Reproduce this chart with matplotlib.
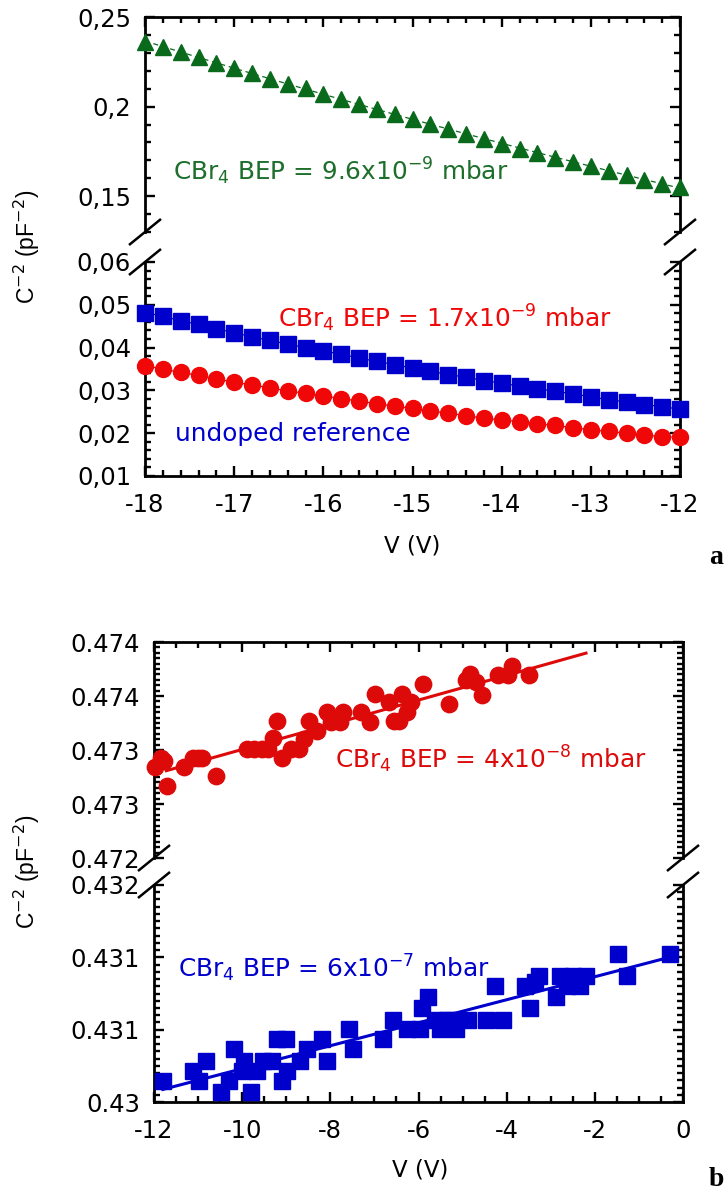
import numpy as np
import matplotlib
matplotlib.use("Agg")
import matplotlib.pyplot as plt
from matplotlib.ticker import FixedLocator, MultipleLocator
from matplotlib.lines import Line2D

plt.rcParams['font.family'] = ['DejaVu Sans']
plt.rcParams['axes.unicode_minus'] = False
plt.rcParams['mathtext.fontset'] = 'dejavusans'

# ---------------- panel a : C^-2 vs reverse bias ----------------
bias_a = [-18.0, -17.8, -17.6, -17.4, -17.2, -17.0, -16.8, -16.6, -16.4, -16.2,
          -16.0, -15.8, -15.6, -15.4, -15.2, -15.0, -14.8, -14.6, -14.4, -14.2,
          -14.0, -13.8, -13.6, -13.4, -13.2, -13.0, -12.8, -12.6, -12.4, -12.2,
          -12.0]
c2_bep_9p6e9 = [0.2361, 0.2333, 0.2306, 0.2274, 0.2244, 0.2217, 0.2185, 0.2156,
                0.2128, 0.2102, 0.2070, 0.2041, 0.2013, 0.1985, 0.1959, 0.1930,
                0.1904, 0.1874, 0.1846, 0.1819, 0.1793, 0.1765, 0.1741, 0.1713,
                0.1691, 0.1667, 0.1643, 0.1617, 0.1593, 0.1570, 0.1550]
c2_undoped = [0.0482, 0.0473, 0.0463, 0.0454, 0.0444, 0.0435, 0.0425, 0.0417,
              0.0408, 0.0400, 0.0392, 0.0385, 0.0375, 0.0368, 0.0360, 0.0352,
              0.0345, 0.0337, 0.0331, 0.0323, 0.0317, 0.0310, 0.0304, 0.0298,
              0.0292, 0.0285, 0.0278, 0.0273, 0.0267, 0.0262, 0.0256]
c2_bep_1p7e9 = [0.0358, 0.0350, 0.0342, 0.0335, 0.0327, 0.0319, 0.0313, 0.0306,
                0.0299, 0.0293, 0.0287, 0.0281, 0.0275, 0.0269, 0.0263, 0.0258,
                0.0252, 0.0247, 0.0241, 0.0235, 0.0231, 0.0227, 0.0222, 0.0218,
                0.0213, 0.0208, 0.0204, 0.0200, 0.0196, 0.0192, 0.0190]

yt_a_upper = [0.15, 0.20, 0.25]
yl_a_upper = ['0,15', '0,2', '0,25']
yt_a_lower = [0.01, 0.02, 0.03, 0.04, 0.05, 0.06]
yl_a_lower = ['0,01', '0,02', '0,03', '0,04', '0,05', '0,06']

# ---------------- panel b : C^-2 vs bias, heavily doped ----------------
bias_b_4e8 = [-11.98, -11.85, -11.78, -11.70, -11.33, -11.11, -11.00, -10.90,
              -10.59, -9.90, -9.74, -9.56, -9.41, -9.30, -9.21, -9.09, -8.90,
              -8.70, -8.60, -8.48, -8.30, -8.07, -7.99, -7.78, -7.72, -7.31,
              -7.09, -6.99, -6.68, -6.55, -6.44, -6.38, -6.26, -6.16, -5.89,
              -5.30, -4.92, -4.84, -4.70, -4.57, -4.20, -3.98, -3.88, -3.49]
c2_bep_4e8 = [0.47284, 0.47293, 0.47290, 0.47267, 0.47284, 0.47293, 0.47293,
              0.47293, 0.47276, 0.47301, 0.47301, 0.47301, 0.47301, 0.47311,
              0.47327, 0.47293, 0.47301, 0.47301, 0.47310, 0.47327, 0.47318,
              0.47335, 0.47326, 0.47326, 0.47335, 0.47335, 0.47326, 0.47352,
              0.47344, 0.47327, 0.47327, 0.47352, 0.47335, 0.47344, 0.47361,
              0.47343, 0.47365, 0.47370, 0.47363, 0.47351, 0.47369, 0.47369,
              0.47378, 0.47369]

bias_b_6e7 = [-11.80, -11.11, -10.97, -10.81, -10.48, -10.29, -10.18, -10.01,
              -9.95, -9.79, -9.67, -9.52, -9.33, -9.22, -9.10, -8.99, -9.00,
              -8.69, -8.54, -8.20, -8.08, -7.57, -7.48, -6.80, -6.57, -6.27,
              -5.97, -5.91, -5.78, -5.63, -5.52, -5.36, -5.25, -5.15, -4.87,
              -4.47, -4.26, -4.09, -3.58, -3.47, -3.36, -3.26, -2.87, -2.79,
              -2.64, -2.49, -2.34, -2.19, -1.47, -1.28, -0.29]
c2_bep_6e7 = [0.43019, 0.43029, 0.43019, 0.43038, 0.43009, 0.43019, 0.43049,
              0.43029, 0.43038, 0.43009, 0.43029, 0.43038, 0.43038, 0.43058,
              0.43019, 0.43029, 0.43058, 0.43038, 0.43049, 0.43058, 0.43038,
              0.43067, 0.43049, 0.43058, 0.43076, 0.43067, 0.43067, 0.43087,
              0.43097, 0.43076, 0.43067, 0.43076, 0.43076, 0.43067, 0.43076,
              0.43076, 0.43107, 0.43076, 0.43107, 0.43087, 0.43111, 0.43116,
              0.43097, 0.43116, 0.43107, 0.43116, 0.43107, 0.43116, 0.43136,
              0.43116, 0.43136]

yt_b_upper = [0.4720, 0.4725, 0.4730, 0.4735, 0.4740]
yl_b_upper = ['0.472', '0.473', '0.473', '0.474', '0.474']
yt_b_lower = [0.4300, 0.430 + 0.002 / 3, 0.430 + 0.004 / 3, 0.4320]
yl_b_lower = ['0.43', '0.431', '0.431', '0.432']

GREEN = '#0a6a1c'
GREEN_TXT = '#1d6f2b'
BLUE = '#0000cc'
RED_A = '#f00808'
RED_B = '#dd0a0a'

TICK_FS = 17.5
NOTE_FS = 17.8
LABEL_FS = 16.5
YLAB_FAMILY, YLAB_FS = ['Liberation Sans', 'DejaVu Sans'], 16.5

W, H = 727, 1194
fig = plt.figure(figsize=(W / 100, H / 100), dpi=100)


def rect(x0, y0, x1, y1):
    return [x0 / W, 1 - y1 / H, (x1 - x0) / W, (y1 - y0) / H]


def style_axes(ax, part, xlim, xmajor, xminor, ylim, yticks, ylabels, yminor):
    ax.set_xlim(*xlim)
    ax.set_ylim(*ylim)
    ax.xaxis.set_major_locator(MultipleLocator(xmajor))
    ax.xaxis.set_minor_locator(MultipleLocator(xminor))
    ax.yaxis.set_major_locator(FixedLocator(yticks))
    ax.set_yticklabels(ylabels)
    ax.yaxis.set_minor_locator(MultipleLocator(yminor))
    for s in ax.spines.values():
        s.set_linewidth(2.0)
    if part == 'upper':
        ax.spines['bottom'].set_visible(False)
        ax.tick_params(axis='x', which='both', bottom=False, top=True,
                       labelbottom=False)
    else:
        ax.spines['top'].set_visible(False)
        ax.tick_params(axis='x', which='both', bottom=True, top=False,
                       labelbottom=True)
    ax.tick_params(axis='y', which='both', left=True, right=True)
    ax.tick_params(which='both', direction='in', width=1.7, labelsize=TICK_FS)
    ax.tick_params(which='major', length=7.5)
    ax.tick_params(which='minor', length=4.3)
    ax.tick_params(axis='y', pad=10)
    ax.tick_params(axis='x', pad=12)
    ax.patch.set_alpha(0)


def break_marks(ax, where):
    bb = ax.get_position()
    y = bb.y0 if where == 'bottom' else bb.y1
    dx, dy = 16 / W, 13 / H
    for x in (bb.x0, bb.x1):
        fig.add_artist(Line2D([x - dx, x + dx], [y - dy, y + dy], color='black',
                              lw=1.8, transform=fig.transFigure,
                              solid_capstyle='butt'))


def ftext(x, y, s, **kw):
    fig.text(x / W, 1 - y / H, s, **kw)


def ylabel_text(y):
    ftext(27, y, 'C$^{-2}$ (pF$^{-2}$)', rotation=90,
          fontsize=YLAB_FS, family=YLAB_FAMILY, ha='center', va='center')


# ---- panel a ----
ax_a1 = fig.add_axes(rect(145, 17, 680, 232))
ax_a2 = fig.add_axes(rect(145, 262, 680, 476))
style_axes(ax_a1, 'upper', (-18, -12), 1, 0.2, (0.13, 0.25),
           yt_a_upper, yl_a_upper, 0.01)
style_axes(ax_a2, 'lower', (-18, -12), 1, 0.2, (0.01, 0.06),
           yt_a_lower, yl_a_lower, 0.002)

fit_g = np.polyfit(bias_a, c2_bep_9p6e9, 2)
xx = np.linspace(min(bias_a), max(bias_a), 100)
ax_a1.plot(xx, np.polyval(fit_g, xx), ls=(0, (4, 3)), color=GREEN, lw=0.9,
           zorder=3, clip_on=False)
ax_a1.plot(bias_a, c2_bep_9p6e9, ls='none', marker='^', ms=12, color=GREEN,
           mec=GREEN, zorder=4, clip_on=False)

ax_a2.plot(bias_a, c2_bep_1p7e9, ls='-', lw=0.9, marker='o', ms=11.5,
           color=RED_A, mec=RED_A, zorder=4, clip_on=False)
ax_a2.plot(bias_a, c2_undoped, ls='-', lw=0.9, marker='s', ms=11.5,
           color=BLUE, mec=BLUE, zorder=5, clip_on=False)

break_marks(ax_a1, 'bottom')
break_marks(ax_a2, 'top')

ftext(173, 180, r'CBr$_4$ BEP = 9.6x10$^{-9}$ mbar', color=GREEN_TXT,
      fontsize=NOTE_FS, va='baseline', ha='left')
ftext(278, 327, r'CBr$_4$ BEP = 1.7x10$^{-9}$ mbar', color=RED_A,
      fontsize=NOTE_FS, va='baseline', ha='left')
ftext(175, 441, 'undoped reference', color=BLUE, fontsize=NOTE_FS,
      va='baseline', ha='left')
ylabel_text(247)
ftext(412, 546, 'V (V)', fontsize=LABEL_FS, ha='center', va='center')
ftext(709, 557, 'a', fontsize=20, fontweight='bold',
      family=['Liberation Serif', 'DejaVu Serif'], ha='left', va='center')

# ---- panel b ----
ax_b1 = fig.add_axes(rect(154, 642, 683, 858))
ax_b2 = fig.add_axes(rect(154, 885, 683, 1102))
style_axes(ax_b1, 'upper', (-12, 0), 2, 0.5, (0.4720, 0.4740),
           yt_b_upper, yl_b_upper, 0.00005)
style_axes(ax_b2, 'lower', (-12, 0), 2, 0.5, (0.4300, 0.4320),
           yt_b_lower, yl_b_lower, 0.002 / 30)

fit_r = np.polyfit(bias_b_4e8, c2_bep_4e8, 1)
xr = np.array([min(bias_b_4e8) + 0.26, -2.2])
ax_b1.plot(xr, np.polyval(fit_r, xr), color=RED_B, lw=2.2, zorder=3)
ax_b1.plot(bias_b_4e8, c2_bep_4e8, ls='none', marker='o', ms=11.8,
           color=RED_B, mec=RED_B, zorder=4, clip_on=False)

fit_b = np.polyfit(bias_b_6e7, c2_bep_6e7, 1)
xb = np.array([min(bias_b_6e7), max(bias_b_6e7)])
ax_b2.plot(xb, np.polyval(fit_b, xb), color=BLUE, lw=2.2, zorder=3)
ax_b2.plot(bias_b_6e7, c2_bep_6e7, ls='none', marker='s', ms=11.8,
           color=BLUE, mec=BLUE, zorder=4, clip_on=False)

break_marks(ax_b1, 'bottom')
break_marks(ax_b2, 'top')

ftext(335, 768, r'CBr$_4$ BEP = 4x10$^{-8}$ mbar', color=RED_B,
      fontsize=NOTE_FS, va='baseline', ha='left')
ftext(178, 977, r'CBr$_4$ BEP = 6x10$^{-7}$ mbar', color=BLUE,
      fontsize=NOTE_FS, va='baseline', ha='left')
ylabel_text(872)
ftext(420, 1170, 'V (V)', fontsize=LABEL_FS, ha='center', va='center')
ftext(709, 1180, 'b', fontsize=20, fontweight='bold',
      family=['Liberation Serif', 'DejaVu Serif'], ha='left', va='center')

fig.savefig('out.png', dpi=100)
